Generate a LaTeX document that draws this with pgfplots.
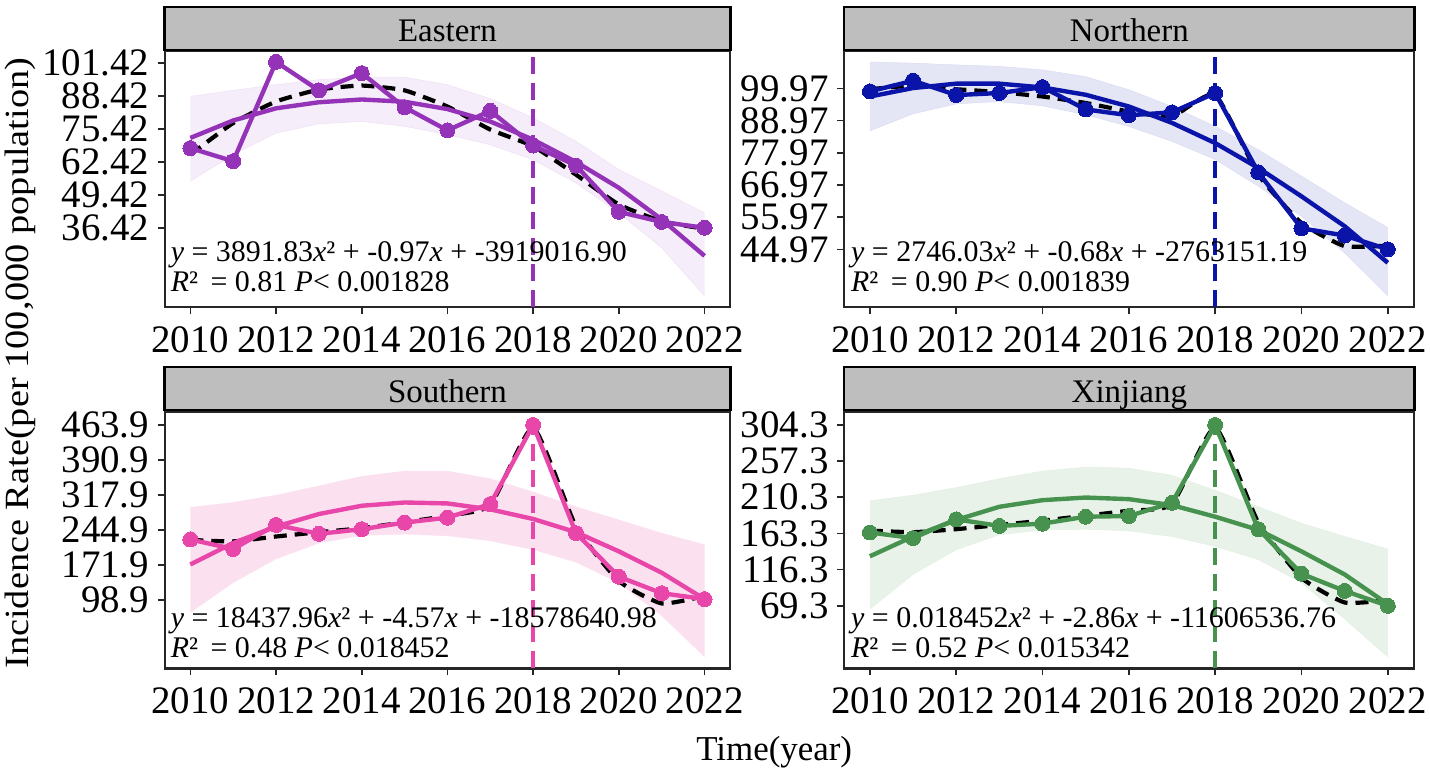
\documentclass[border=0pt]{standalone}
\usepackage{pgfplots}
\usepackage{pgfplotstable}
\usepackage{graphicx}
\usepackage{fontspec}
\setmainfont{Liberation Serif}
\pgfplotsset{compat=1.18}
\usepgfplotslibrary{fillbetween}
\definecolor{cE}{HTML}{9433B8}
\definecolor{cN}{HTML}{0A14A8}
\definecolor{cS}{HTML}{E846A8}
\definecolor{cX}{HTML}{46924E}
\definecolor{strip}{HTML}{BEBEBE}

\pgfplotstableread{
year pt fit loess up lo
2010 67.9 71.9 65.3 88.3 54.8
2011 62.7 78.8 77.8 90.7 65.3
2012 101.95 83.6 86.3 92.9 73.8
2013 90.7 86.0 91.0 94.9 77.5
2014 97.5 87.1 92.6 95.9 78.4
2015 84.0 86.2 90.7 95.9 76.5
2016 74.9 83.3 84.3 92.9 73.2
2017 82.6 78.4 75.2 87.4 69.2
2018 68.9 71.2 68.6 79.8 63.3
2019 61.0 62.4 57.4 70.6 54.1
2020 42.7 52.2 45.6 59.4 42.3
2021 38.7 39.7 39.0 50.9 28.5
2022 36.4 25.3 36.0 42.3 9.5
}\tE
\pgfplotstableread{
year pt fit loess up lo
2010 98.95 97.2 99.7 109.0 85.5
2011 102.6 100.1 100.9 108.6 91.3
2012 97.7 101.6 99.7 108.0 94.7
2013 98.4 101.6 98.7 107.5 95.5
2014 100.4 100.3 97.2 106.3 94.0
2015 92.8 97.8 95.0 104.0 91.0
2016 90.8 93.8 92.1 99.5 87.0
2017 91.8 88.2 90.4 93.8 81.9
2018 98.4 81.3 97.8 87.0 75.7
2019 71.3 72.8 70.5 79.0 66.6
2020 52.2 63.1 54.0 70.0 56.3
2021 49.7 52.9 46.1 60.9 43.8
2022 45.0 40.4 46.3 52.4 29.1
}\tN
\pgfplotstableread{
year pt fit loess up lo
2010 224.9 172.6 224.0 291.7 72.7
2011 205.0 217.4 220.8 302.0 134.7
2012 255.2 251.8 231.0 317.2 184.3
2013 236.6 277.9 240.0 336.5 217.4
2014 246.3 295.2 248.3 356.5 233.2
2015 260.0 302.0 260.7 367.5 236.0
2016 270.4 300.0 274.5 367.5 232.5
2017 298.6 287.6 296.5 351.6 222.0
2018 463.9 267.6 458.0 324.0 203.6
2019 238.0 240.0 251.8 293.0 177.4
2020 147.1 200.0 138.0 265.6 134.7
2021 112.7 155.4 91.3 238.0 65.8
2022 100.3 100.3 107.0 213.9 -20.0
}\tS
\pgfplotstableread{
year pt fit loess up lo
2010 164.5 133.6 167.0 205.6 65.0
2011 157.2 159.3 164.9 212.9 110.0
2012 181.6 180.8 168.8 222.8 142.2
2013 173.0 197.9 174.3 234.3 161.5
2014 176.0 206.5 179.9 244.2 167.9
2015 185.0 209.9 186.3 249.4 168.8
2016 185.9 207.8 192.8 248.0 166.6
2017 203.0 200.0 201.3 238.6 159.3
2018 304.2 185.0 300.8 219.3 146.5
2019 168.8 167.9 177.3 197.9 129.3
2020 110.9 140.0 105.7 176.5 99.3
2021 88.6 110.0 73.6 159.3 52.2
2022 69.3 71.4 76.6 143.0 2.9
}\tX

\pgfplotsset{
 ribcE/.style={fill opacity=0.09},
 ribcN/.style={fill opacity=0.11},
 ribcS/.style={fill opacity=0.17},
 ribcX/.style={fill opacity=0.12},
 panel/.style={
  scale only axis, anchor=south west, height=257pt,
  xmin=2009.4, xmax=2022.6,
  xtick={2010,2012,...,2022},
  tick align=outside, tick pos=left,
  major tick length=7pt,
  every tick/.style={black!85, line width=1.6pt},
  axis line style={black!85, line width=2.2pt},
  x tick label style={/pgf/number format/1000 sep={},/pgf/number format/assume math mode=true, font=\fontsize{39}{39}\selectfont, yshift=-9pt},
  y tick label style={font=\fontsize{39}{39}\selectfont, xshift=-5pt},
  yticklabel style={anchor=east},
}}

% #1 left px, #2 bottom px (from top of image), #3 width px, #4 ymin, #5 ymax, #6 ticks, #7 table, #8 colour
\newcommand{\panel}[8]{%
\begin{axis}[panel, at={(#1pt,777pt-#2pt)}, width=#3pt, ymin=#4, ymax=#5, ytick={#6}, yticklabels={#6}]
\addplot[name path=up, draw=#8!15, line width=0.5pt, forget plot] table[x=year,y=up] {#7};
\addplot[name path=lo, draw=#8!15, line width=0.5pt, forget plot] table[x=year,y=lo] {#7};
\addplot[#8, rib#8, draw=none, forget plot] fill between[of=up and lo];
\addplot[#8, line width=3.8pt, dash pattern=on 17pt off 9pt, forget plot] coordinates {(2018,#4) (2018,#5)};
\addplot[black, line width=4.2pt, dash pattern=on 13pt off 8pt, smooth, tension=0.3, forget plot] table[x=year,y=loess] {#7};
\addplot[#8, line width=4.4pt, forget plot] table[x=year,y=fit] {#7};
\addplot[#8, line width=4.4pt, mark=*, mark size=7.5pt, mark options={solid,fill=#8,draw=#8,line width=0pt}, forget plot] table[x=year,y=pt] {#7};
\end{axis}}

\newcommand{\strip}[4]{% left, top, right, text -- bottom is top+43
\draw[black, line width=2.6pt, fill=strip] (#1pt,777pt-#2pt) rectangle (#3pt,777pt-#2pt-43pt);
\node[font=\fontsize{33}{33}\selectfont, anchor=base] at ({(#1+#3)/2*1pt},777pt-#2pt-35pt) {#4};}

\newcommand{\eqn}[4]{% x, baseline y first line, line1, line2
\node[font=\fontsize{30}{30}\selectfont, anchor=base west, inner sep=0pt] at (#1pt,777pt-#2pt) {#3};
\node[font=\fontsize{30}{30}\selectfont, anchor=base west, inner sep=0pt] at (#1pt,777pt-#2pt-30pt) {#4};}

\begin{document}
\begin{tikzpicture}[x=1pt,y=1pt]
\path (0pt,0pt) rectangle (1430pt,777pt);

\panel{165}{308}{567}{5.0}{106.3}{36.42,49.42,62.42,75.42,88.42,101.42}{\tE}{cE}
\panel{846}{308}{571}{25.2}{112.8}{44.97,55.97,66.97,77.97,88.97,99.97}{\tN}{cN}
\panel{165}{670}{567}{-44.3}{490.8}{98.9,171.9,244.9,317.9,390.9,463.9}{\tS}{cS}
\panel{846}{670}{571}{-12.1}{321}{69.3,116.3,163.3,210.3,257.3,304.3}{\tX}{cX}

\strip{165}{7}{732}{Eastern}
\strip{846}{7}{1418}{Northern}
\strip{165}{368}{732}{Southern}
\strip{846}{368}{1418}{Xinjiang}

\eqn{171}{262}{\textit{y} = 3891.83\textit{x}² + -0.97\textit{x} + -3919016.90}{\textit{R}²\, = 0.81 \textit{P}< 0.001828}
\eqn{853}{262}{\textit{y} = 2746.03\textit{x}² + -0.68\textit{x} + -2763151.19}{\textit{R}²\, = 0.90 \textit{P}< 0.001839}
\eqn{171}{629}{\textit{y} = 18437.96\textit{x}² + -4.57\textit{x} + -18578640.98}{\textit{R}²\, = 0.48 \textit{P}< 0.018452}
\eqn{853}{629}{\textit{y} = 0.018452\textit{x}² + -2.86\textit{x} + -11606536.76}{\textit{R}²\, = 0.52 \textit{P}< 0.015342}

\node[rotate=90, font=\fontsize{34}{34}\selectfont] at (20pt,413pt) {\scalebox{1.13}[1]{Incidence Rate(per 100,000 population)}};
\node[font=\fontsize{35}{35}\selectfont, anchor=base] at (776pt,777pt-762pt) {Time(year)};
\end{tikzpicture}
\end{document}
